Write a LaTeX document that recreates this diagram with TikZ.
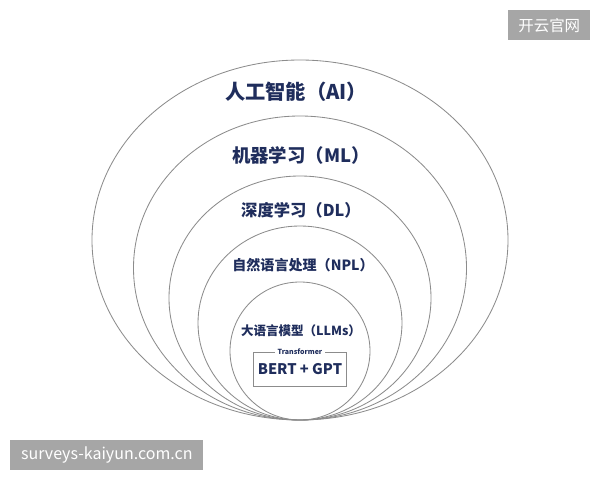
\documentclass[tikz,border=0pt]{standalone}
\usepackage{fontspec}
\setmainfont{Noto Sans CJK SC}
\usepackage{tikz}
\usepackage{xcolor}

\definecolor{navy}{HTML}{1F2D5C}
\definecolor{ringgray}{HTML}{8C8C8C}
\definecolor{wmgray}{HTML}{A6A6A6}

\tikzset{
  ring/.style={ringgray, line width=0.6pt},
  layer/.style={text=navy, font=\bfseries, inner sep=1pt},
  wmbox/.style={fill=wmgray, text=white, inner sep=0pt, anchor=north west},
}

\begin{document}
\begin{tikzpicture}[x=0.025cm, y=-0.025cm]
    \useasboundingbox (0,0) rectangle (600,480);
    % nested fields, all touching at the bottom
    \draw[ring] (300,240) ellipse (208 and 180);
    \draw[ring] (300,268) ellipse (166.5 and 152);
    \draw[ring] (300,298) ellipse (131 and 122);
    \draw[ring] (300,323) ellipse (102 and 97);
    \draw[ring] (300,351) ellipse (70 and 69);
    \node[layer, font=\bfseries\fontsize{14.4pt}{16pt}\selectfont] (ai) at (296,92) {人工智能（AI）};
    \node[layer, font=\bfseries\fontsize{13.1pt}{15pt}\selectfont] (ml) at (301,155) {机器学习（ML）};
    \node[layer, font=\bfseries\fontsize{11.6pt}{13pt}\selectfont] (dl) at (301,210) {深度学习（DL）};
    \node[layer, font=\bfseries\fontsize{10pt}{12pt}\selectfont] (npl) at (303,265) {自然语言处理（NPL）};
    \node[layer, font=\bfseries\fontsize{8.9pt}{10pt}\selectfont] (llm) at (301,331) {大语言模型（LLMs）};
    \node[draw=ringgray, line width=0.6pt, text=navy, font=\bfseries\fontsize{10.4pt}{12pt}\selectfont,
          minimum width=65.4pt, minimum height=24.2pt] (gpt) at (300,369) {BERT + GPT};
    \node[fill=white, text=navy, font=\bfseries\fontsize{5pt}{6pt}\selectfont, inner sep=2pt] (tf) at (gpt.north) {Transformer};
    % watermarks
    \node[wmbox, minimum width=58.3pt, minimum height=21.3pt, font=\fontsize{11pt}{13pt}\selectfont] (wmtop) at (508,10) {开云官网};
    \node[wmbox, minimum width=137.3pt, minimum height=21.3pt, font=\fontsize{11.4pt}{13pt}\selectfont] (wmbot) at (10,440) {surveys-kaiyun.com.cn};
\end{tikzpicture}
\end{document}
